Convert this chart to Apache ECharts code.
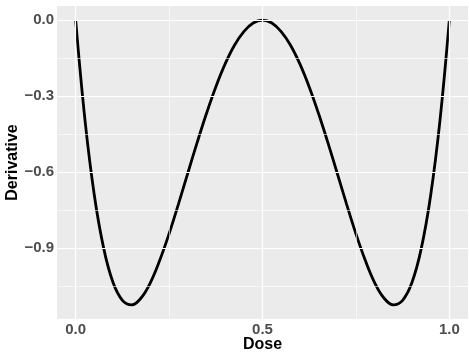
<!DOCTYPE html>
<html>
<head>
<meta charset="utf-8">
<script src="https://cdn.jsdelivr.net/npm/echarts@6/dist/echarts.min.js"></script>
<style>
  html, body { margin: 0; padding: 0; background: #fff; }
  #chart { width: 469px; height: 355px; }
</style>
</head>
<body>
<div id="chart"></div>
<script>
// values
const doseValues = [
  0, 0.025, 0.05, 0.075, 0.1, 0.125, 0.15, 0.175, 0.2, 0.225,
  0.25, 0.275, 0.3, 0.325, 0.35, 0.375, 0.4, 0.425, 0.45, 0.475,
  0.5, 0.525, 0.55, 0.575, 0.6, 0.625, 0.65, 0.675, 0.7, 0.725,
  0.75, 0.775, 0.8, 0.825, 0.85, 0.875, 0.9, 0.925, 0.95, 0.975, 1
];
const derivValues = [
  0, -0.396, -0.693, -0.902, -1.037, -1.107, -1.125, -1.098, -1.037, -0.949,
  -0.844, -0.727, -0.605, -0.484, -0.369, -0.264, -0.173, -0.099, -0.045, -0.011,
  0, -0.011, -0.045, -0.099, -0.173, -0.264, -0.369, -0.484, -0.605, -0.727,
  -0.844, -0.949, -1.037, -1.098, -1.125, -1.107, -1.037, -0.902, -0.693, -0.396, 0
];
const xTicks = [0, 0.5, 1];
const xMinor = [0.25, 0.75];
const yTicks = [0, -0.3, -0.6, -0.9];
const yMinor = [-0.15, -0.45, -0.75, -1.05];

const chart = echarts.init(document.getElementById('chart'));

const fmt = v => {
  const s = Math.abs(v).toFixed(1);
  return v < 0 ? '\u2212' + s : s;
};

// panel grid lines, drawn as mark lines under the curve
const gridLines = [];
xTicks.forEach(v => gridLines.push({ xAxis: v, lineStyle: { width: 1.2 } }));
xMinor.forEach(v => gridLines.push({ xAxis: v, lineStyle: { width: 0.6 } }));
yTicks.forEach(v => gridLines.push({ yAxis: v, lineStyle: { width: 1.2 } }));
yMinor.forEach(v => gridLines.push({ yAxis: v, lineStyle: { width: 0.6 } }));

const option = {
  animation: false,
  grid: {
    left: 57, right: 1, top: 6, bottom: 36,
    outerBoundsMode: 'none',
    containLabel: false,
    show: true,
    backgroundColor: '#EBEBEB',
    borderWidth: 0
  },
  xAxis: {
    type: 'value',
    min: -0.05,
    max: 1.05,
    name: 'Dose',
    nameLocation: 'middle',
    nameGap: 18,
    nameMoveOverlap: false,
    nameTextStyle: { fontFamily: 'Liberation Sans', fontWeight: 'bold', fontSize: 16, color: '#000' },
    axisLine: { show: false },
    splitLine: { show: false },
    axisTick: { show: true, length: 4, customValues: xTicks, lineStyle: { color: '#333' } },
    axisLabel: {
      customValues: xTicks,
      formatter: fmt,
      margin: 3,
      fontFamily: 'Liberation Sans', fontWeight: 'bold', fontSize: 15, color: '#4D4D4D'
    }
  },
  yAxis: {
    type: 'value',
    min: -1.181,
    max: 0.056,
    name: 'Derivative',
    nameLocation: 'middle',
    nameGap: 36,
    nameMoveOverlap: false,
    nameTextStyle: { fontFamily: 'Liberation Sans', fontWeight: 'bold', fontSize: 16, color: '#000' },
    axisLine: { show: false },
    splitLine: { show: false },
    axisTick: { show: true, length: 4, customValues: yTicks, lineStyle: { color: '#333' } },
    axisLabel: {
      customValues: yTicks,
      formatter: fmt,
      margin: 3,
      fontFamily: 'Liberation Sans', fontWeight: 'bold', fontSize: 15, color: '#4D4D4D'
    }
  },
  series: [
    {
      type: 'line',
      data: [],
      z: 1,
      silent: true,
      markLine: {
        silent: true,
        symbol: ['none', 'none'],
        label: { show: false },
        lineStyle: { color: '#fff', type: 'solid' },
        data: gridLines
      }
    },
    {
      type: 'line',
      z: 3,
      data: doseValues.map((d, i) => [d, derivValues[i]]),
      smooth: 0.4,
      showSymbol: false,
      lineStyle: { color: '#000', width: 2.8 }
    }
  ]
};

chart.setOption(option);
</script>
</body>
</html>
